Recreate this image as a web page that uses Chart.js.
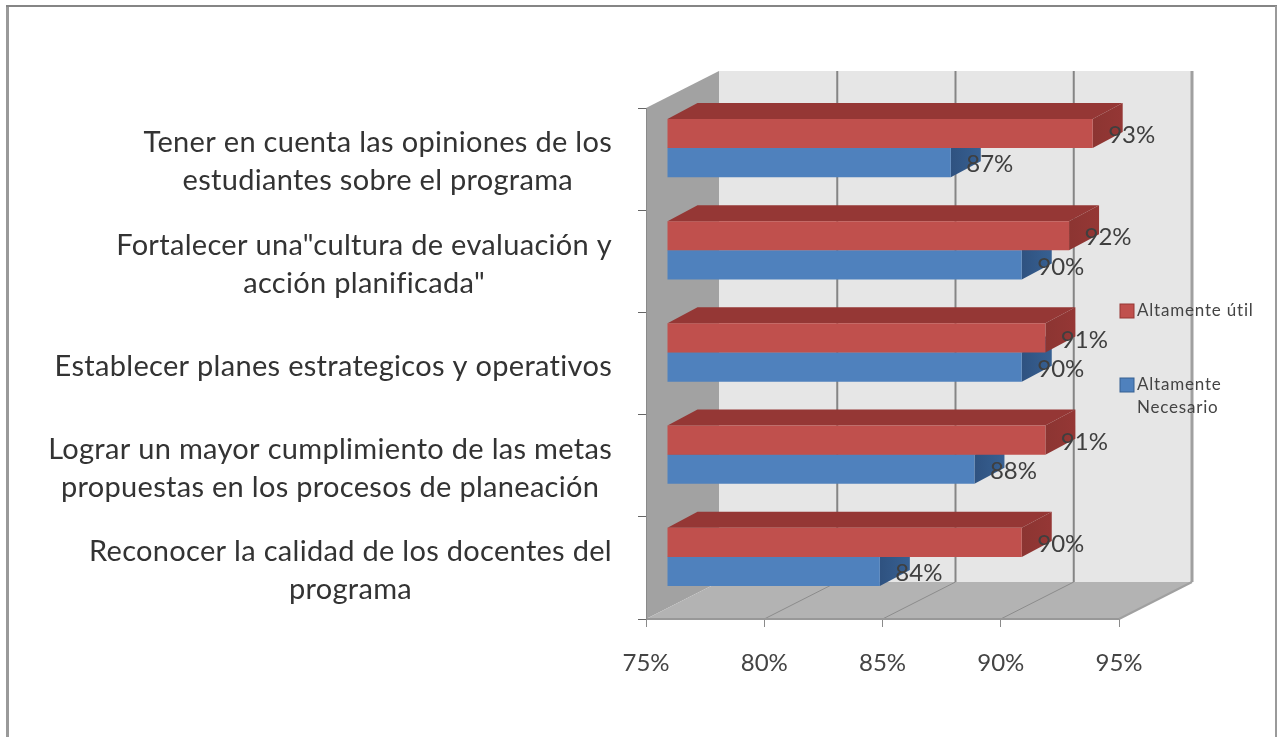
<!DOCTYPE html>
<html>
<head>
    <meta charset="UTF-8">
    <title>Altamente útil / Altamente Necesario</title>
    <script src="https://cdn.jsdelivr.net/npm/chart.js@4"></script>
    <style>
        html, body { margin: 0; padding: 0; background: #fff; overflow: hidden; }
        canvas { display: block; filter: blur(0.4px); }
    </style>
</head>
<body>
    <canvas id="myChart" width="1277" height="737"></canvas>
    <script>
        var categories = [
            ["Tener en cuenta las opiniones de los", "estudiantes sobre el programa"],
            ["Fortalecer una\"cultura de evaluación y", "acción planificada\""],
            ["Establecer planes estrategicos y operativos"],
            ["Lograr un mayor cumplimiento de las metas", "propuestas en los procesos de planeación"],
            ["Reconocer la calidad de los docentes del", "programa"]
        ];
        var altamenteUtil = [93, 92, 91, 91, 90];
        var altamenteNecesario = [87, 90, 90, 88, 84];
        var xMin = 75;
        var xMax = 95;
        var xStep = 5;

        // depth of the box and of the bars, in pixels
        var wallDx = 73, wallDy = -37;
        var barShiftX = 21, barShiftY = -11;
        var barDx = 30, barDy = -16;

        function poly(ctx, pts, fill) {
            ctx.beginPath();
            ctx.moveTo(pts[0][0], pts[0][1]);
            for (var i = 1; i < pts.length; i++) ctx.lineTo(pts[i][0], pts[i][1]);
            ctx.closePath();
            ctx.fillStyle = fill;
            ctx.fill();
        }

        function line(ctx, x1, y1, x2, y2, color, width) {
            ctx.beginPath();
            ctx.moveTo(x1, y1);
            ctx.lineTo(x2, y2);
            ctx.strokeStyle = color;
            ctx.lineWidth = width;
            ctx.stroke();
        }

        const boxPlugin = {
            id: 'box',
            beforeDraw(chart) {
                const ctx = chart.ctx, a = chart.chartArea, x = chart.scales.x;
                ctx.save();
                ctx.fillStyle = '#fff';
                ctx.fillRect(0, 0, chart.width, chart.height);
                // picture frame
                line(ctx, 7.5, 6, 7.5, 737, '#9a9a9a', 3);
                line(ctx, 6, 6, 1277, 6, '#858585', 2);
                line(ctx, 1276, 6, 1276, 737, '#9a9a9a', 2);

                poly(ctx, [[a.left + wallDx, a.top + wallDy], [a.right + wallDx, a.top + wallDy],
                    [a.right + wallDx, a.bottom + wallDy], [a.left + wallDx, a.bottom + wallDy]], '#e6e6e6');
                poly(ctx, [[a.left, a.top], [a.left + wallDx, a.top + wallDy],
                    [a.left + wallDx, a.bottom + wallDy], [a.left, a.bottom]], '#a2a2a2');
                poly(ctx, [[a.left, a.bottom], [a.right, a.bottom],
                    [a.right + wallDx, a.bottom + wallDy], [a.left + wallDx, a.bottom + wallDy]], '#b3b3b3');

                for (var v = xMin + xStep; v <= xMax; v += xStep) {
                    var px = x.getPixelForValue(v);
                    var edge = v == xMax;
                    line(ctx, px + wallDx, a.top + wallDy, px + wallDx, a.bottom + wallDy, edge ? '#a0a0a0' : '#858585', edge ? 3 : 2);
                    line(ctx, px, a.bottom, px + wallDx, a.bottom + wallDy, edge ? '#a0a0a0' : '#8c8c8c', edge ? 2 : 1);
                }
                line(ctx, a.left, a.bottom, a.right, a.bottom, '#989898', 2);
                ctx.restore();
            },
            beforeDatasetDraw(chart, args) {
                const ctx = chart.ctx;
                const ds = chart.data.datasets[args.index];
                ctx.save();
                ctx.translate(barShiftX, barShiftY);
                args.meta.data.forEach(function (el) {
                    var top = el.y - el.height / 2, bot = el.y + el.height / 2;
                    poly(ctx, [[el.base, top], [el.x, top], [el.x + barDx, top + barDy], [el.base + barDx, top + barDy]], ds.topColor);
                    var g = ctx.createLinearGradient(el.x, 0, el.x + barDx, 0);
                    g.addColorStop(0, ds.sideColor);
                    g.addColorStop(1, ds.topColor);
                    poly(ctx, [[el.x, top], [el.x + barDx, top + barDy], [el.x + barDx, bot + barDy], [el.x, bot]], g);
                });
            },
            afterDatasetDraw(chart) {
                chart.ctx.restore();
            },
            afterDatasetsDraw(chart) {
                const ctx = chart.ctx, y = chart.scales.y;
                ctx.save();
                ctx.textBaseline = 'middle';

                // value labels
                ctx.font = '24px Lato';
                ctx.textAlign = 'center';
                ctx.fillStyle = '#3f3f3f';
                chart.data.datasets.forEach(function (ds, i) {
                    chart.getDatasetMeta(i).data.forEach(function (el, j) {
                        ctx.fillText(ds.data[j] + '%', el.x + barShiftX + 39, el.y + barShiftY + 2);
                    });
                });

                // category labels: each block centred on its longest line
                ctx.font = '29px Lato';
                ctx.letterSpacing = '0.3px';
                ctx.fillStyle = '#333333';
                categories.forEach(function (lines, i) {
                    var w = 0;
                    lines.forEach(function (l) { w = Math.max(w, ctx.measureText(l).width); });
                    var cx = 612 - w / 2;
                    var cy = y.getPixelForValue(i) + 3;
                    lines.forEach(function (l, k) {
                        ctx.fillText(l, cx, cy + (k - (lines.length - 1) / 2) * 38);
                    });
                });

                // legend
                ctx.font = '17px Lato';
                ctx.letterSpacing = '0.8px';
                ctx.textAlign = 'left';
                chart.data.datasets.forEach(function (ds, i) {
                    var ly = i == 0 ? 311 : 385;
                    ctx.fillStyle = ds.backgroundColor;
                    ctx.fillRect(1120, ly - 7, 14, 14);
                    ctx.strokeStyle = ds.topColor;
                    ctx.lineWidth = 1;
                    ctx.strokeRect(1120, ly - 7, 14, 14);
                    ctx.fillStyle = '#444444';
                    ds.legendLines.forEach(function (l, k) {
                        ctx.fillText(l, 1137, ly + k * 23);
                    });
                });
                ctx.restore();
            }
        };

        var myChart = new Chart(document.getElementById('myChart'), {
            type: 'bar',
            data: {
                labels: categories,
                datasets: [{
                    label: 'Altamente útil',
                    legendLines: ['Altamente útil'],
                    data: altamenteUtil,
                    base: xMin,
                    backgroundColor: '#c0504d',
                    topColor: '#953735',
                    sideColor: '#8c3532',
                    clip: false
                }, {
                    label: 'Altamente Necesario',
                    legendLines: ['Altamente', 'Necesario'],
                    data: altamenteNecesario,
                    base: xMin,
                    backgroundColor: '#4f81bd',
                    topColor: '#376092',
                    sideColor: '#2f5280',
                    clip: false
                }]
            },
            options: {
                indexAxis: 'y',
                responsive: false,
                animation: false,
                categoryPercentage: 0.57,
                barPercentage: 1,
                layout: { padding: { top: 108, right: 158, left: 0, bottom: 0 } },
                plugins: { legend: { display: false }, tooltip: { enabled: false } },
                scales: {
                    x: {
                        min: xMin,
                        max: xMax,
                        afterFit: function (s) { s.height = 118; },
                        border: { color: '#989898' },
                        grid: { drawOnChartArea: false, color: '#8a8a8a', tickLength: 8 },
                        ticks: {
                            stepSize: xStep,
                            maxRotation: 0,
                            padding: 22,
                            color: '#444444',
                            font: { family: 'Lato', size: 24 },
                            callback: function (v) { return v + '%'; }
                        }
                    },
                    y: {
                        afterFit: function (s) { s.width = 646; },
                        border: { color: '#8a8a8a' },
                        grid: { drawOnChartArea: false, color: '#666666', tickLength: 8 },
                        ticks: { display: false }
                    }
                }
            },
            plugins: [boxPlugin]
        });
    </script>
</body>
</html>
